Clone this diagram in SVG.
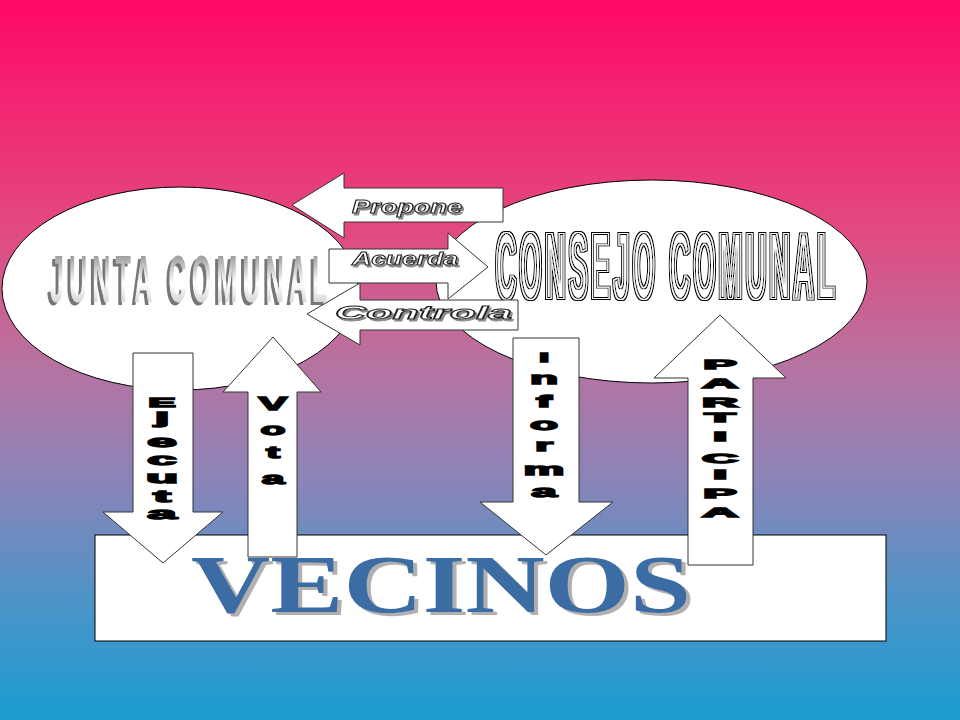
<svg xmlns="http://www.w3.org/2000/svg" width="960" height="720" viewBox="0 0 960 720">
<defs>
<linearGradient id="bg" x1="0" y1="0" x2="0" y2="1">
<stop offset="0" stop-color="#FF0866"/>
<stop offset="0.32" stop-color="#E24A80"/>
<stop offset="0.5" stop-color="#B872A0"/>
<stop offset="0.67" stop-color="#8A84B8"/>
<stop offset="0.83" stop-color="#4E94C8"/>
<stop offset="1" stop-color="#1A9CD0"/>
</linearGradient>
<linearGradient id="silver" x1="0" y1="255" x2="0" y2="302" gradientUnits="userSpaceOnUse">
<stop offset="0" stop-color="#9a9a9a"/>
<stop offset="0.6" stop-color="#ffffff"/>
<stop offset="1" stop-color="#d8d8d8"/>
</linearGradient>
<filter id="shLabel" x="-10%" y="-30%" width="130%" height="170%">
<feOffset in="SourceAlpha" dx="2" dy="2" result="o"/>
<feFlood flood-color="#8a8a8a"/>
<feComposite in2="o" operator="in" result="s"/>
<feMerge><feMergeNode in="s"/><feMergeNode in="SourceGraphic"/></feMerge>
</filter>
<filter id="shJunta" x="-10%" y="-20%" width="120%" height="150%">
<feOffset in="SourceAlpha" dx="-3" dy="3" result="o"/>
<feFlood flood-color="#777"/>
<feComposite in2="o" operator="in" result="s"/>
<feMerge><feMergeNode in="s"/><feMergeNode in="SourceGraphic"/></feMerge>
</filter>
<filter id="shVec" x="-10%" y="-20%" width="120%" height="150%">
<feOffset in="SourceAlpha" dx="4" dy="3" result="o"/>
<feFlood flood-color="#b0b0b0"/>
<feComposite in2="o" operator="in" result="s"/>
<feMerge><feMergeNode in="s"/><feMergeNode in="SourceGraphic"/></feMerge>
</filter>
<filter id="outline2" x="-5%" y="-10%" width="110%" height="120%">
<feFlood flood-color="#000" result="k"/>
<feFlood flood-color="#fff" result="w"/>
<feMorphology in="SourceAlpha" operator="dilate" radius="2" result="d2"/>
<feComposite in="k" in2="d2" operator="in" result="r2"/>
<feMorphology in="SourceAlpha" operator="dilate" radius="1" result="d1"/>
<feComposite in="w" in2="d1" operator="in" result="r1"/>
<feComposite in="k" in2="SourceAlpha" operator="in" result="r0"/>
<feMorphology in="SourceAlpha" operator="erode" radius="1" result="e1"/>
<feComposite in="w" in2="e1" operator="in" result="rin"/>
<feMerge><feMergeNode in="r2"/><feMergeNode in="r1"/><feMergeNode in="r0"/><feMergeNode in="rin"/></feMerge>
</filter>
</defs>
<style>
.shape{fill:#fff;stroke:#000;stroke-width:1}
.arrow{fill:#fff;stroke:#333;stroke-width:1}
.hl{font-family:"Liberation Sans",Arial,sans-serif;font-weight:bold;font-style:italic;font-size:18px;fill:#fff;stroke:#222;stroke-width:0.9}
.vl{font-family:"Liberation Sans",Arial,sans-serif;font-weight:bold;fill:#000;stroke:#000;stroke-width:1.4;text-anchor:middle}
.up{font-size:13px}
.lo{font-size:17px}
.big{font-family:"Liberation Sans",Arial,sans-serif;font-weight:bold}
</style>
<rect x="0" y="0" width="960" height="720" fill="url(#bg)"/>

<g id="consejo-comunal">
<ellipse class="shape" cx="651.5" cy="281.5" rx="215.5" ry="101.5"/>
<g filter="url(#outline2)">
<g transform="translate(496 0) scale(0.3 1)">
<text class="big" x="0" y="298" letter-spacing="13" font-size="92" fill="#fff">CONSEJO COMUNAL</text>
</g>
</g>
</g>

<g id="junta-comunal">
<ellipse class="shape" cx="180" cy="288.5" rx="178" ry="101.5"/>
<g filter="url(#shJunta)">
<g transform="translate(50 0) scale(0.38 1)">
<text class="big" x="0" y="302" letter-spacing="13.5" font-size="66" fill="url(#silver)">JUNTA COMUNAL</text>
</g>
</g>
</g>

<g id="vecinos">
<rect class="shape" x="95" y="535" width="791" height="106"/>
<text x="191" y="612" textLength="500" lengthAdjust="spacingAndGlyphs" font-family="'Liberation Serif','Times New Roman',serif" font-weight="bold" font-size="83" fill="#3A6CA3" filter="url(#shVec)">VECINOS</text>
</g>

<g id="connectors">
<g id="propone">
<polygon class="arrow" points="292,205 344,173 344,188 503,188 503,222 344,222 344,238"/>
<text class="hl" x="352" y="213" textLength="110" lengthAdjust="spacingAndGlyphs" filter="url(#shLabel)">Propone</text>
</g>
<g id="acuerda">
<polygon class="arrow" points="329,249 448,249 448,233 488,267 448,299 448,283 329,283"/>
<text class="hl" x="352" y="265" textLength="106" lengthAdjust="spacingAndGlyphs" filter="url(#shLabel)">Acuerda</text>
</g>
<g id="controla">
<polygon class="arrow" points="307,314 360,283 360,300 518,300 518,330 360,330 360,345"/>
<text class="hl" x="335" y="319" textLength="177" lengthAdjust="spacingAndGlyphs" filter="url(#shLabel)">Controla</text>
</g>
<g id="ejecuta">
<polygon class="arrow" points="133,353 193,353 193,512 223,512 163,563 103,512 133,512"/>
<g transform="translate(162 0) scale(3.1 1)">
<text class="vl up" x="0" y="407">E</text>
<text class="vl lo" x="0" y="424">j</text>
<text class="vl lo" x="0" y="447">e</text>
<text class="vl lo" x="0" y="465">c</text>
<text class="vl lo" x="0" y="483">u</text>
<text class="vl lo" x="0" y="502">t</text>
<text class="vl lo" x="0" y="519">a</text>
</g>
</g>
<g id="vota">
<polygon class="arrow" points="273,337 321,392 297,392 297,557 248,557 248,392 223,392"/>
<g transform="translate(273 0) scale(2.4 1)">
<text class="vl" font-size="18" x="0" y="410">V</text>
<text class="vl lo" x="0" y="435">o</text>
<text class="vl lo" x="0" y="458">t</text>
<text class="vl lo" x="0" y="484">a</text>
</g>
</g>
<g id="informa">
<polygon class="arrow" points="513,338 579,338 579,502 613,502 546,555 480,502 513,502"/>
<g transform="translate(544 0) scale(2.7 1)">
<text class="vl up" x="0" y="362">I</text>
<text class="vl lo" x="0" y="384">n</text>
<text class="vl lo" x="0" y="407">f</text>
<text class="vl lo" x="0" y="430">o</text>
<text class="vl lo" x="0" y="451">r</text>
<text class="vl lo" x="0" y="475">m</text>
<text class="vl lo" x="0" y="497">a</text>
</g>
</g>
<g id="participa">
<polygon class="arrow" points="720,315 786,378 753,378 753,565 688,565 688,378 654,378"/>
<g transform="translate(720 0) scale(3.8 1)">
<text class="vl up" x="0" y="369">P</text>
<text class="vl up" x="0" y="388">A</text>
<text class="vl up" x="0" y="407">R</text>
<text class="vl up" x="0" y="422">T</text>
<text class="vl up" x="0" y="441">I</text>
<text class="vl up" x="0" y="463">C</text>
<text class="vl up" x="0" y="479">I</text>
<text class="vl up" x="0" y="498">P</text>
<text class="vl up" x="0" y="517">A</text>
</g>
</g>
</g>
</svg>
